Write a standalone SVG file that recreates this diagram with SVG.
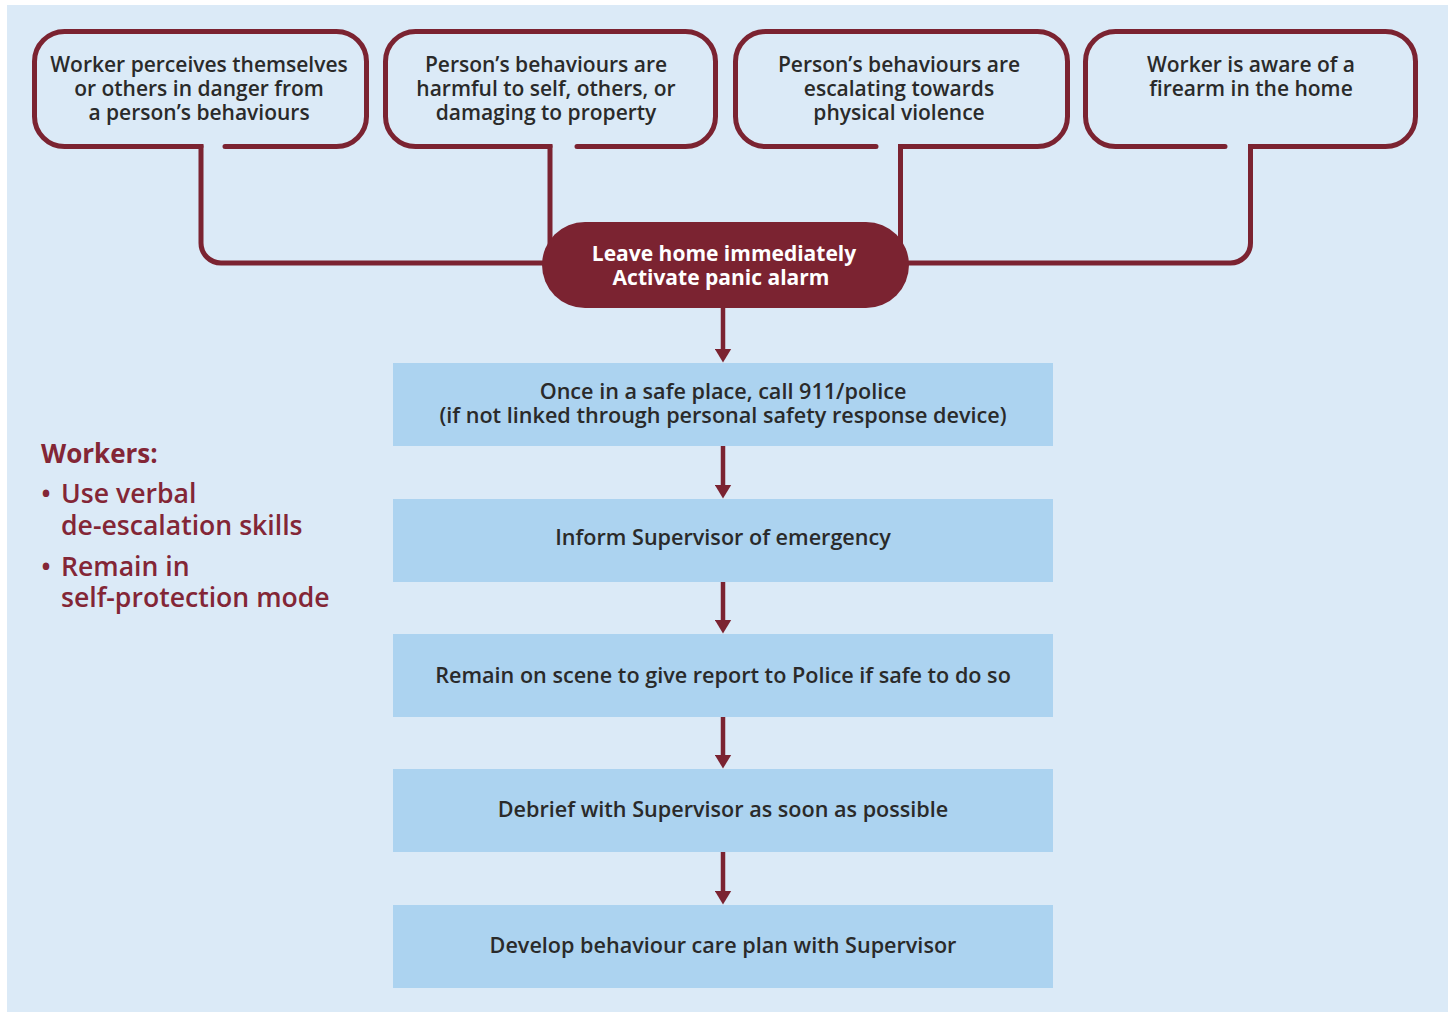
<svg xmlns="http://www.w3.org/2000/svg" width="1448" height="1012" viewBox="0 0 1448 1012">
  <defs>
    <style>
      .outline { fill: none; stroke: #7b2331; stroke-width: 5; stroke-linecap: round; stroke-linejoin: round; }
      .wire { fill: none; stroke: #7b2331; stroke-width: 5; stroke-linecap: butt; stroke-linejoin: round; }
      .flow { fill: none; stroke: #7b2331; stroke-width: 4.5; stroke-linecap: butt; }
      .step { fill: #acd3f0; }
      .txt { font-family: "Open Sans", "Liberation Sans", sans-serif; font-size: 21px; font-weight: 600; fill: #2a2a2a; text-anchor: middle; }
      .step-txt { font-size: 21.6px; }
      .pill-txt { font-family: "Open Sans", "Liberation Sans", sans-serif; font-size: 21px; font-weight: 700; fill: #ffffff; text-anchor: middle; }
      .side { font-family: "Open Sans", "Liberation Sans", sans-serif; fill: #832636; }
    </style>
    <marker id="arrow" markerUnits="userSpaceOnUse" viewBox="0 0 14 17" markerWidth="14" markerHeight="17" refX="4" refY="8.5" orient="auto">
      <path d="M0,0 L14,8.5 L0,17 Z" fill="#7b2331"/>
    </marker>
  </defs>

  <!-- page background -->
  <rect x="7" y="5" width="1441" height="1007" fill="#dbeaf7"/>

  <!-- connectors -->
  <g id="connectors">
    <path class="wire" d="M201,144 V243 A20,20 0 0 0 221,263 H560"/>
    <path class="wire" d="M550,144 V255"/>
    <path class="wire" d="M900.5,144 V255"/>
    <path class="wire" d="M1250.5,144 V243 A20,20 0 0 1 1230.5,263 H890"/>
    <path class="flow" marker-end="url(#arrow)" d="M723,308 V352.5"/>
    <path class="flow" marker-end="url(#arrow)" d="M723,446 V488.5"/>
    <path class="flow" marker-end="url(#arrow)" d="M723,582 V623.5"/>
    <path class="flow" marker-end="url(#arrow)" d="M723,717 V758.5"/>
    <path class="flow" marker-end="url(#arrow)" d="M723,852 V894.5"/>
  </g>

  <!-- trigger: danger from behaviours -->
  <g id="trigger-danger">
    <path class="outline" d="M225,146.5 H336.5 A30,30 0 0 0 366.5,116.5 V61.5 A30,30 0 0 0 336.5,31.5 H64.5 A30,30 0 0 0 34.5,61.5 V116.5 A30,30 0 0 0 64.5,146.5 H201"/>
    <text class="txt"><tspan x="199" y="72">Worker perceives themselves</tspan><tspan x="199" y="96">or others in danger from</tspan><tspan x="199" y="120">a person’s behaviours</tspan></text>
  </g>

  <!-- trigger: harmful behaviours -->
  <g id="trigger-harm">
    <path class="outline" d="M577,146.5 H685.5 A30,30 0 0 0 715.5,116.5 V61.5 A30,30 0 0 0 685.5,31.5 H415.5 A30,30 0 0 0 385.5,61.5 V116.5 A30,30 0 0 0 415.5,146.5 H550"/>
    <text class="txt"><tspan x="546" y="72">Person’s behaviours are</tspan><tspan x="546" y="96">harmful to self, others, or</tspan><tspan x="546" y="120">damaging to property</tspan></text>
  </g>

  <!-- trigger: escalating behaviours -->
  <g id="trigger-escalating">
    <path class="outline" d="M876,146.5 H765.5 A30,30 0 0 1 735.5,116.5 V61.5 A30,30 0 0 1 765.5,31.5 H1037.5 A30,30 0 0 1 1067.5,61.5 V116.5 A30,30 0 0 1 1037.5,146.5 H900.5"/>
    <text class="txt"><tspan x="899" y="72">Person’s behaviours are</tspan><tspan x="899" y="96">escalating towards</tspan><tspan x="899" y="120">physical violence</tspan></text>
  </g>

  <!-- trigger: firearm -->
  <g id="trigger-firearm">
    <path class="outline" d="M1225,146.5 H1115.5 A30,30 0 0 1 1085.5,116.5 V61.5 A30,30 0 0 1 1115.5,31.5 H1385.5 A30,30 0 0 1 1415.5,61.5 V116.5 A30,30 0 0 1 1385.5,146.5 H1250.5"/>
    <text class="txt"><tspan x="1251" y="72">Worker is aware of a</tspan><tspan x="1251" y="96">firearm in the home</tspan></text>
  </g>

  <!-- immediate action -->
  <g id="leave-home">
    <rect x="542" y="222" width="367" height="86" rx="43" fill="#7b2331"/>
    <text class="pill-txt"><tspan x="724" y="261">Leave home immediately</tspan><tspan x="721" y="285">Activate panic alarm</tspan></text>
  </g>

  <!-- follow-up steps -->
  <g id="call-police">
    <rect class="step" x="393" y="363" width="660" height="83"/>
    <text class="txt step-txt"><tspan x="723" y="399">Once in a safe place, call 911/police</tspan><tspan x="723" y="423">(if not linked through personal safety response device)</tspan></text>
  </g>
  <g id="inform-supervisor">
    <rect class="step" x="393" y="499" width="660" height="83"/>
    <text class="txt step-txt" x="723" y="545">Inform Supervisor of emergency</text>
  </g>
  <g id="remain-on-scene">
    <rect class="step" x="393" y="634" width="660" height="83"/>
    <text class="txt step-txt" x="723" y="683">Remain on scene to give report to Police if safe to do so</text>
  </g>
  <g id="debrief">
    <rect class="step" x="393" y="769" width="660" height="83"/>
    <text class="txt step-txt" x="723" y="817">Debrief with Supervisor as soon as possible</text>
  </g>
  <g id="care-plan">
    <rect class="step" x="393" y="905" width="660" height="83"/>
    <text class="txt step-txt" x="723" y="953">Develop behaviour care plan with Supervisor</text>
  </g>

  <!-- worker guidance note -->
  <g id="worker-guidance">
    <text class="side" x="41" y="463" font-size="26" font-weight="700">Workers:</text>
    <text class="side" font-size="26.6" font-weight="600">
      <tspan x="41" y="503">•</tspan><tspan x="61" y="503">Use verbal</tspan>
      <tspan x="61" y="535">de-escalation skills</tspan>
      <tspan x="41" y="576">•</tspan><tspan x="61" y="576">Remain in</tspan>
      <tspan x="61" y="607">self-protection mode</tspan>
    </text>
  </g>
</svg>
